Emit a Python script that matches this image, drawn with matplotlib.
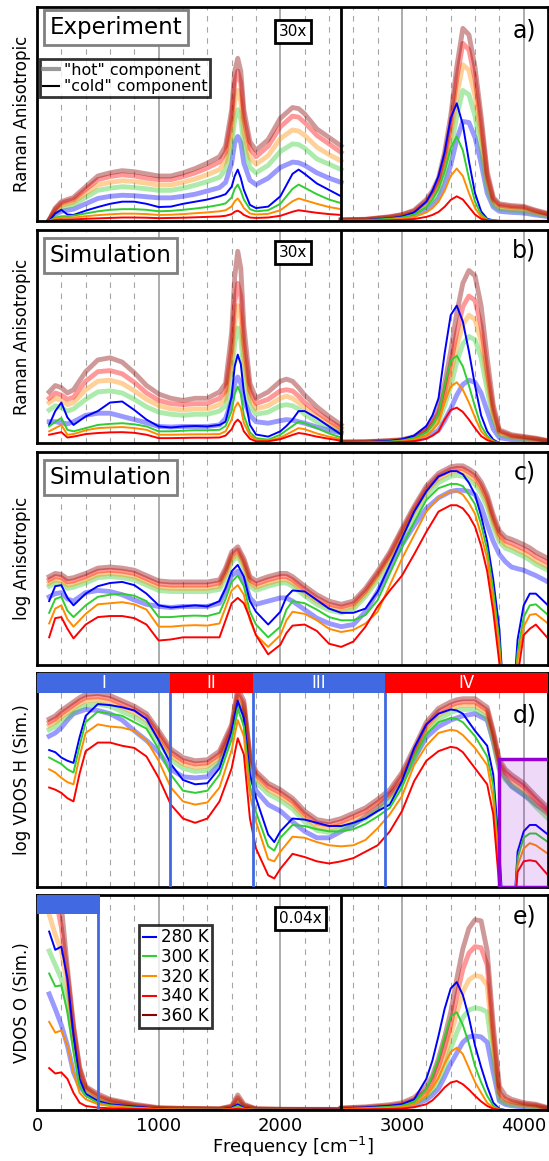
import numpy as np
import matplotlib.pyplot as plt
from matplotlib.patches import Rectangle
from matplotlib.lines import Line2D

# temperatures and colours (cold = thin line, hot = thick transparent line)
temps = ['280 K', '300 K', '320 K', '340 K', '360 K']
colors = ['blue', 'limegreen', 'darkorange', 'red', 'darkred']

# ---------------- panel a (experiment, left part 30x) ----------------
a_freq_l = [100, 150, 200, 250, 300, 400, 500, 600, 700, 800, 900, 1000, 1100, 1200, 1300, 1400, 1500,
            1550, 1600, 1625, 1650, 1675, 1700, 1750, 1800, 1900, 2000, 2100, 2150, 2200, 2300, 2400, 2500]
a_hot_l = [
    [0.003, 0.03, 0.045, 0.05, 0.055, 0.08, 0.105, 0.115, 0.12, 0.118, 0.113, 0.108, 0.108, 0.115, 0.125, 0.14, 0.156,
     0.18, 0.27, 0.365, 0.395, 0.365, 0.27, 0.19, 0.17, 0.2, 0.25, 0.275, 0.272, 0.26, 0.225, 0.2, 0.18],
    [0.003, 0.04, 0.06, 0.068, 0.075, 0.11, 0.143, 0.153, 0.16, 0.156, 0.15, 0.143, 0.143, 0.153, 0.167, 0.184, 0.204,
     0.24, 0.355, 0.475, 0.52, 0.475, 0.355, 0.25, 0.225, 0.26, 0.325, 0.36, 0.357, 0.34, 0.29, 0.265, 0.24],
    [0.004, 0.048, 0.072, 0.08, 0.088, 0.128, 0.168, 0.18, 0.188, 0.184, 0.176, 0.168, 0.168, 0.18, 0.196, 0.216, 0.24,
     0.28, 0.415, 0.56, 0.61, 0.56, 0.415, 0.295, 0.265, 0.305, 0.385, 0.425, 0.42, 0.40, 0.345, 0.31, 0.28],
    [0.005, 0.055, 0.083, 0.092, 0.10, 0.147, 0.193, 0.207, 0.216, 0.21, 0.20, 0.193, 0.193, 0.207, 0.225, 0.248, 0.276,
     0.32, 0.48, 0.645, 0.70, 0.645, 0.48, 0.34, 0.30, 0.35, 0.44, 0.49, 0.485, 0.46, 0.40, 0.36, 0.32],
    [0.005, 0.06, 0.09, 0.10, 0.11, 0.16, 0.21, 0.225, 0.235, 0.23, 0.22, 0.21, 0.21, 0.225, 0.245, 0.27, 0.30,
     0.35, 0.52, 0.70, 0.76, 0.70, 0.52, 0.37, 0.33, 0.38, 0.48, 0.53, 0.525, 0.50, 0.43, 0.39, 0.35],
]
a_cold_l = [
    [0, 0.035, 0.052, 0.03, 0.028, 0.048, 0.065, 0.08, 0.09, 0.09, 0.08, 0.065, 0.067, 0.08, 0.09, 0.10, 0.115,
     0.125, 0.16, 0.21, 0.24, 0.20, 0.145, 0.075, 0.06, 0.067, 0.115, 0.22, 0.24, 0.22, 0.175, 0.145, 0.115],
    [0, 0.015, 0.022, 0.022, 0.025, 0.035, 0.045, 0.052, 0.055, 0.055, 0.052, 0.045, 0.047, 0.052, 0.058, 0.065, 0.075,
     0.082, 0.11, 0.15, 0.17, 0.14, 0.1, 0.055, 0.045, 0.05, 0.08, 0.15, 0.17, 0.155, 0.125, 0.1, 0.083],
    [0, 0.01, 0.015, 0.015, 0.016, 0.022, 0.027, 0.031, 0.034, 0.034, 0.032, 0.028, 0.029, 0.032, 0.036, 0.04, 0.045,
     0.05, 0.068, 0.092, 0.105, 0.085, 0.06, 0.035, 0.03, 0.033, 0.05, 0.092, 0.105, 0.097, 0.08, 0.065, 0.055],
    [0, 0.004, 0.006, 0.006, 0.007, 0.01, 0.012, 0.014, 0.016, 0.016, 0.015, 0.013, 0.014, 0.015, 0.017, 0.019, 0.021,
     0.024, 0.032, 0.043, 0.048, 0.04, 0.028, 0.016, 0.014, 0.016, 0.024, 0.043, 0.05, 0.046, 0.038, 0.032, 0.028],
]
a_freq_r = [2500, 2700, 2900, 3000, 3100, 3200, 3250, 3300, 3350, 3400, 3450, 3500, 3550, 3600, 3650, 3700,
            3750, 3800, 3900, 4000, 4100, 4200]
a_hot_r = [
    [0.003, 0.004, 0.01, 0.016, 0.026, 0.052, 0.073, 0.105, 0.17, 0.26, 0.38, 0.465, 0.46, 0.39, 0.27, 0.13,
     0.065, 0.045, 0.04, 0.037, 0.028, 0.02],
    [0.003, 0.005, 0.014, 0.02, 0.034, 0.068, 0.095, 0.136, 0.218, 0.333, 0.49, 0.61, 0.59, 0.49, 0.333, 0.157,
     0.075, 0.055, 0.05, 0.046, 0.034, 0.024],
    [0.004, 0.006, 0.016, 0.024, 0.04, 0.081, 0.113, 0.162, 0.26, 0.40, 0.585, 0.73, 0.705, 0.585, 0.40, 0.19,
     0.09, 0.065, 0.058, 0.055, 0.04, 0.028],
    [0.005, 0.007, 0.018, 0.028, 0.046, 0.092, 0.13, 0.185, 0.295, 0.45, 0.665, 0.83, 0.80, 0.665, 0.45, 0.21,
     0.10, 0.074, 0.066, 0.063, 0.046, 0.032],
    [0.005, 0.008, 0.02, 0.03, 0.05, 0.10, 0.14, 0.20, 0.32, 0.49, 0.72, 0.90, 0.87, 0.72, 0.49, 0.23,
     0.11, 0.08, 0.072, 0.068, 0.05, 0.035],
]
a_cold_r = [
    [0.002, 0.004, 0.012, 0.02, 0.04, 0.09, 0.14, 0.21, 0.32, 0.48, 0.55, 0.45, 0.28, 0.13, 0.045, 0.01,
     0.003, 0, 0, 0, 0, 0],
    [0.002, 0.003, 0.01, 0.016, 0.03, 0.065, 0.1, 0.15, 0.23, 0.34, 0.395, 0.33, 0.2, 0.09, 0.03, 0.007,
     0.002, 0, 0, 0, 0, 0],
    [0.001, 0.002, 0.006, 0.01, 0.018, 0.04, 0.06, 0.09, 0.14, 0.21, 0.245, 0.21, 0.13, 0.06, 0.02, 0.005,
     0.001, 0, 0, 0, 0, 0],
    [0, 0.001, 0.003, 0.005, 0.009, 0.019, 0.028, 0.042, 0.066, 0.098, 0.115, 0.1, 0.065, 0.03, 0.01, 0.003,
     0, 0, 0, 0, 0, 0],
]

# ---------------- panel b (simulation, raman) ----------------
b_freq_l = [100, 150, 200, 250, 300, 400, 500, 600, 700, 800, 900, 1000, 1100, 1200, 1300, 1400, 1500, 1550,
            1600, 1625, 1650, 1675, 1700, 1750, 1800, 1900, 2000, 2050, 2100, 2150, 2200, 2300, 2400, 2500]
b_hot_l = [
    [0.10, 0.10, 0.095, 0.09, 0.10, 0.13, 0.14, 0.14, 0.125, 0.11, 0.095, 0.078, 0.075, 0.078, 0.078, 0.078, 0.085,
     0.115, 0.2, 0.28, 0.31, 0.28, 0.2, 0.13, 0.1, 0.093, 0.105, 0.11, 0.107, 0.1, 0.093, 0.075, 0.06, 0.047],
    [0.155, 0.175, 0.165, 0.15, 0.16, 0.205, 0.24, 0.245, 0.235, 0.205, 0.17, 0.145, 0.135, 0.13, 0.135, 0.135, 0.15,
     0.175, 0.32, 0.47, 0.54, 0.49, 0.335, 0.175, 0.135, 0.145, 0.175, 0.18, 0.175, 0.16, 0.135, 0.10, 0.075, 0.047],
    [0.19, 0.21, 0.20, 0.18, 0.19, 0.25, 0.29, 0.295, 0.28, 0.245, 0.205, 0.175, 0.16, 0.155, 0.16, 0.16, 0.18,
     0.21, 0.38, 0.565, 0.645, 0.59, 0.40, 0.21, 0.16, 0.175, 0.21, 0.22, 0.21, 0.19, 0.165, 0.125, 0.09, 0.06],
    [0.21, 0.235, 0.225, 0.205, 0.215, 0.29, 0.335, 0.34, 0.325, 0.285, 0.235, 0.20, 0.185, 0.18, 0.185, 0.185, 0.21,
     0.245, 0.45, 0.66, 0.75, 0.69, 0.47, 0.245, 0.185, 0.205, 0.245, 0.25, 0.245, 0.22, 0.19, 0.145, 0.105, 0.07],
    [0.24, 0.27, 0.26, 0.235, 0.25, 0.335, 0.39, 0.40, 0.38, 0.33, 0.27, 0.23, 0.21, 0.20, 0.21, 0.21, 0.24,
     0.28, 0.52, 0.78, 0.90, 0.82, 0.55, 0.28, 0.21, 0.24, 0.29, 0.30, 0.29, 0.26, 0.225, 0.17, 0.125, 0.085],
]
b_cold_l = [
    [0.085, 0.15, 0.19, 0.12, 0.085, 0.125, 0.15, 0.19, 0.195, 0.155, 0.11, 0.078, 0.073, 0.078, 0.08, 0.078, 0.085,
     0.10, 0.22, 0.36, 0.415, 0.37, 0.24, 0.085, 0.04, 0.03, 0.055, 0.08, 0.11, 0.15, 0.15, 0.117, 0.078, 0.04],
    [0.078, 0.1, 0.117, 0.062, 0.055, 0.07, 0.085, 0.09, 0.093, 0.088, 0.078, 0.055, 0.055, 0.058, 0.06, 0.06, 0.062,
     0.08, 0.15, 0.23, 0.265, 0.23, 0.13, 0.05, 0.023, 0.016, 0.039, 0.06, 0.08, 0.1, 0.093, 0.07, 0.045, 0.026],
    [0.055, 0.07, 0.085, 0.039, 0.042, 0.06, 0.07, 0.073, 0.075, 0.07, 0.062, 0.039, 0.039, 0.04, 0.041, 0.041, 0.042,
     0.055, 0.11, 0.165, 0.19, 0.165, 0.095, 0.035, 0.016, 0.011, 0.025, 0.04, 0.055, 0.07, 0.065, 0.045, 0.03, 0.019],
    [0.039, 0.045, 0.051, 0.026, 0.03, 0.042, 0.047, 0.05, 0.051, 0.048, 0.039, 0.023, 0.023, 0.024, 0.025, 0.025,
     0.026, 0.035, 0.065, 0.095, 0.11, 0.095, 0.055, 0.02, 0.008, 0.008, 0.018, 0.028, 0.038, 0.047, 0.043, 0.03,
     0.02, 0.011],
]
b_freq_r = a_freq_r
b_hot_r = [
    [0.002, 0.003, 0.005, 0.006, 0.012, 0.027, 0.042, 0.06, 0.105, 0.16, 0.225, 0.275, 0.295, 0.285, 0.235, 0.15,
     0.066, 0.025, 0.016, 0.013, 0.01, 0.005],
    [0.003, 0.004, 0.008, 0.01, 0.019, 0.044, 0.07, 0.1, 0.175, 0.265, 0.38, 0.465, 0.50, 0.485, 0.40, 0.25,
     0.11, 0.04, 0.025, 0.02, 0.015, 0.008],
    [0.004, 0.005, 0.009, 0.012, 0.023, 0.053, 0.083, 0.12, 0.21, 0.32, 0.455, 0.555, 0.60, 0.58, 0.48, 0.30,
     0.135, 0.048, 0.03, 0.024, 0.018, 0.009],
    [0.004, 0.005, 0.01, 0.014, 0.026, 0.06, 0.095, 0.14, 0.24, 0.37, 0.52, 0.64, 0.69, 0.67, 0.55, 0.34,
     0.155, 0.055, 0.034, 0.027, 0.02, 0.01],
    [0.005, 0.006, 0.012, 0.016, 0.03, 0.07, 0.11, 0.16, 0.28, 0.43, 0.61, 0.75, 0.81, 0.785, 0.645, 0.40,
     0.18, 0.062, 0.039, 0.031, 0.023, 0.011],
]
b_cold_r = [
    [0.002, 0.004, 0.01, 0.018, 0.035, 0.08, 0.13, 0.21, 0.42, 0.60, 0.645, 0.57, 0.43, 0.27, 0.13, 0.055,
     0.016, 0, 0, 0, 0, 0],
    [0.001, 0.003, 0.007, 0.012, 0.023, 0.05, 0.085, 0.135, 0.27, 0.385, 0.41, 0.36, 0.27, 0.17, 0.08, 0.034,
     0.01, 0, 0, 0, 0, 0],
    [0.001, 0.002, 0.005, 0.008, 0.016, 0.035, 0.06, 0.095, 0.19, 0.265, 0.285, 0.25, 0.19, 0.12, 0.056, 0.024,
     0.007, 0, 0, 0, 0, 0],
    [0, 0.001, 0.003, 0.005, 0.009, 0.02, 0.035, 0.055, 0.11, 0.155, 0.166, 0.146, 0.11, 0.07, 0.033, 0.014,
     0.004, 0, 0, 0, 0, 0],
]

# ---------------- panel c (log anisotropic) ----------------
c_freq = [100, 150, 200, 250, 300, 400, 500, 600, 700, 800, 900, 1000, 1100, 1200, 1300, 1400, 1500, 1550, 1600,
          1650, 1700, 1750, 1800, 1900, 2000, 2050, 2100, 2200, 2300, 2400, 2500, 2600, 2700, 2800, 2900, 3000,
          3100, 3200, 3300, 3400, 3450, 3500, 3550, 3600, 3650, 3700, 3750, 3800, 3850, 3900, 3950, 4000, 4050,
          4100, 4200]
c_hot = [
    [0.32, 0.335, 0.34, 0.31, 0.30, 0.34, 0.35, 0.345, 0.33, 0.305, 0.285, 0.275, 0.27, 0.275, 0.275, 0.275, 0.29,
     0.35, 0.42, 0.44, 0.40, 0.315, 0.285, 0.30, 0.315, 0.315, 0.30, 0.26, 0.22, 0.195, 0.18, 0.19, 0.25, 0.345,
     0.455, 0.565, 0.655, 0.735, 0.785, 0.815, 0.82, 0.82, 0.815, 0.80, 0.745, 0.66, 0.58, 0.52, 0.485, 0.46, 0.452,
     0.445, 0.432, 0.42, 0.39],
    [0.37, 0.385, 0.38, 0.36, 0.365, 0.385, 0.41, 0.415, 0.41, 0.40, 0.375, 0.35, 0.345, 0.345, 0.345, 0.345, 0.355,
     0.41, 0.485, 0.51, 0.455, 0.37, 0.35, 0.37, 0.385, 0.385, 0.37, 0.325, 0.285, 0.258, 0.245, 0.262, 0.322, 0.40,
     0.49, 0.598, 0.703, 0.797, 0.856, 0.886, 0.89, 0.887, 0.87, 0.848, 0.805, 0.745, 0.65, 0.578, 0.548, 0.538,
     0.523, 0.51, 0.493, 0.473, 0.445],
    [0.385, 0.40, 0.395, 0.375, 0.38, 0.40, 0.425, 0.43, 0.425, 0.415, 0.39, 0.365, 0.36, 0.36, 0.36, 0.36, 0.37,
     0.425, 0.50, 0.525, 0.47, 0.385, 0.365, 0.385, 0.40, 0.40, 0.385, 0.34, 0.30, 0.272, 0.26, 0.275, 0.335, 0.415,
     0.505, 0.615, 0.72, 0.815, 0.875, 0.905, 0.91, 0.908, 0.89, 0.868, 0.825, 0.765, 0.67, 0.595, 0.565, 0.555,
     0.54, 0.527, 0.51, 0.49, 0.46],
    [0.40, 0.415, 0.41, 0.39, 0.395, 0.415, 0.44, 0.445, 0.44, 0.43, 0.405, 0.38, 0.375, 0.375, 0.375, 0.375, 0.385,
     0.44, 0.515, 0.54, 0.485, 0.40, 0.38, 0.40, 0.415, 0.415, 0.40, 0.355, 0.315, 0.285, 0.272, 0.288, 0.348, 0.428,
     0.518, 0.628, 0.733, 0.828, 0.888, 0.918, 0.923, 0.922, 0.905, 0.885, 0.843, 0.782, 0.687, 0.612, 0.582, 0.572,
     0.558, 0.545, 0.53, 0.51, 0.48],
    [0.415, 0.43, 0.425, 0.405, 0.41, 0.43, 0.455, 0.46, 0.455, 0.445, 0.42, 0.395, 0.39, 0.39, 0.39, 0.39, 0.40,
     0.455, 0.53, 0.555, 0.50, 0.415, 0.395, 0.415, 0.43, 0.43, 0.415, 0.37, 0.33, 0.30, 0.285, 0.30, 0.36, 0.44,
     0.53, 0.64, 0.745, 0.84, 0.90, 0.93, 0.935, 0.935, 0.92, 0.90, 0.86, 0.80, 0.705, 0.63, 0.60, 0.59, 0.578,
     0.565, 0.55, 0.53, 0.50],
]
c_cold = [
    [0.30, 0.37, 0.375, 0.315, 0.28, 0.335, 0.37, 0.385, 0.39, 0.375, 0.335, 0.28, 0.27, 0.275, 0.28, 0.275, 0.30,
     0.36, 0.44, 0.47, 0.415, 0.30, 0.25, 0.19, 0.25, 0.32, 0.35, 0.345, 0.305, 0.265, 0.245, 0.245, 0.265, 0.345,
     0.47, 0.595, 0.72, 0.815, 0.885, 0.91, 0.91, 0.895, 0.855, 0.80, 0.70, 0.58, 0.40, 0.17, -0.3, -0.3, 0.12,
     0.28, 0.335, 0.335, 0.28],
    [0.245, 0.31, 0.32, 0.255, 0.225, 0.28, 0.32, 0.33, 0.335, 0.325, 0.30, 0.225, 0.225, 0.23, 0.232, 0.23, 0.245,
     0.31, 0.39, 0.42, 0.37, 0.25, 0.19, 0.13, 0.18, 0.26, 0.30, 0.29, 0.26, 0.225, 0.21, 0.21, 0.235, 0.305,
     0.43, 0.555, 0.67, 0.775, 0.83, 0.85, 0.85, 0.84, 0.80, 0.755, 0.66, 0.54, 0.35, 0.11, -0.3, -0.3, 0.06,
     0.225, 0.28, 0.285, 0.235],
    [0.195, 0.265, 0.28, 0.215, 0.18, 0.24, 0.285, 0.29, 0.295, 0.285, 0.26, 0.18, 0.18, 0.185, 0.187, 0.185, 0.195,
     0.27, 0.35, 0.375, 0.33, 0.21, 0.14, 0.085, 0.14, 0.21, 0.25, 0.24, 0.21, 0.17, 0.155, 0.165, 0.195, 0.25,
     0.375, 0.50, 0.61, 0.72, 0.785, 0.815, 0.815, 0.80, 0.76, 0.71, 0.61, 0.50, 0.30, 0.07, -0.3, -0.3, 0.02,
     0.18, 0.235, 0.24, 0.195],
    [0.13, 0.22, 0.225, 0.17, 0.125, 0.19, 0.225, 0.23, 0.23, 0.22, 0.19, 0.115, 0.12, 0.13, 0.13, 0.13, 0.13,
     0.21, 0.29, 0.315, 0.29, 0.22, 0.14, 0.05, 0.095, 0.15, 0.185, 0.19, 0.16, 0.10, 0.085, 0.11, 0.18, 0.275,
     0.35, 0.42, 0.52, 0.625, 0.72, 0.75, 0.75, 0.735, 0.70, 0.65, 0.56, 0.44, 0.25, 0.01, -0.3, -0.3, -0.05,
     0.14, 0.17, 0.19, 0.125],
]

# ---------------- panel d (log VDOS H) ----------------
d_freq = [100, 150, 200, 250, 300, 350, 400, 500, 600, 700, 800, 900, 1000, 1100, 1200, 1300, 1400, 1500, 1600,
          1650, 1700, 1750, 1800, 1900, 1950, 2000, 2100, 2200, 2300, 2400, 2500, 2600, 2700, 2800, 2900, 3000,
          3100, 3200, 3300, 3400, 3450, 3500, 3600, 3700, 3750, 3800, 3850, 3900, 3950, 4000, 4050, 4100, 4200]
d_hot = [
    [0.705, 0.72, 0.745, 0.78, 0.81, 0.82, 0.83, 0.825, 0.81, 0.78, 0.73, 0.685, 0.63, 0.55, 0.515, 0.51, 0.515,
     0.575, 0.73, 0.855, 0.81, 0.54, 0.45, 0.385, 0.37, 0.355, 0.305, 0.26, 0.23, 0.23, 0.26, 0.29, 0.33, 0.37,
     0.43, 0.49, 0.60, 0.70, 0.75, 0.78, 0.79, 0.80, 0.81, 0.78, 0.68, 0.555, 0.51, 0.47, 0.45, 0.43, 0.41, 0.385,
     0.345],
    [0.735, 0.75, 0.775, 0.795, 0.815, 0.835, 0.85, 0.855, 0.845, 0.82, 0.795, 0.76, 0.68, 0.595, 0.555, 0.54,
     0.545, 0.585, 0.71, 0.87, 0.82, 0.57, 0.49, 0.435, 0.42, 0.405, 0.365, 0.305, 0.265, 0.255, 0.27, 0.295, 0.32,
     0.36, 0.405, 0.485, 0.60, 0.72, 0.785, 0.815, 0.825, 0.83, 0.83, 0.79, 0.68, 0.545, 0.50, 0.475, 0.455, 0.435,
     0.405, 0.375, 0.32],
    [0.755, 0.77, 0.795, 0.815, 0.835, 0.855, 0.87, 0.875, 0.865, 0.84, 0.815, 0.78, 0.70, 0.615, 0.575, 0.56,
     0.565, 0.605, 0.73, 0.89, 0.84, 0.59, 0.51, 0.455, 0.44, 0.425, 0.385, 0.325, 0.285, 0.275, 0.29, 0.315, 0.34,
     0.38, 0.425, 0.505, 0.62, 0.74, 0.805, 0.835, 0.845, 0.85, 0.85, 0.81, 0.70, 0.565, 0.52, 0.495, 0.475, 0.455,
     0.425, 0.395, 0.34],
    [0.77, 0.785, 0.81, 0.83, 0.85, 0.87, 0.885, 0.89, 0.88, 0.855, 0.83, 0.795, 0.715, 0.63, 0.59, 0.575, 0.58,
     0.62, 0.745, 0.905, 0.855, 0.605, 0.525, 0.47, 0.455, 0.44, 0.40, 0.34, 0.30, 0.29, 0.305, 0.33, 0.355, 0.395,
     0.44, 0.52, 0.635, 0.755, 0.82, 0.85, 0.86, 0.865, 0.865, 0.825, 0.715, 0.58, 0.535, 0.51, 0.49, 0.47, 0.44,
     0.41, 0.355],
    [0.785, 0.80, 0.825, 0.845, 0.865, 0.885, 0.90, 0.905, 0.895, 0.87, 0.845, 0.81, 0.73, 0.645, 0.605, 0.59,
     0.595, 0.635, 0.76, 0.93, 0.87, 0.62, 0.54, 0.485, 0.47, 0.455, 0.415, 0.355, 0.315, 0.305, 0.32, 0.345, 0.37,
     0.41, 0.455, 0.535, 0.65, 0.77, 0.835, 0.865, 0.875, 0.88, 0.88, 0.84, 0.73, 0.595, 0.55, 0.525, 0.505, 0.485,
     0.455, 0.425, 0.37],
]
d_cold = [
    [0.64, 0.63, 0.605, 0.59, 0.58, 0.70, 0.80, 0.855, 0.85, 0.84, 0.825, 0.785, 0.685, 0.575, 0.50, 0.48, 0.485,
     0.555, 0.73, 0.87, 0.79, 0.525, 0.415, 0.245, 0.21, 0.26, 0.32, 0.315, 0.30, 0.285, 0.285, 0.30, 0.32, 0.355,
     0.385, 0.495, 0.65, 0.76, 0.81, 0.83, 0.825, 0.81, 0.73, 0.66, 0.525, 0.165, -0.3, -0.3, 0.165, 0.26, 0.29,
     0.29, 0.245],
    [0.605, 0.59, 0.575, 0.55, 0.535, 0.66, 0.77, 0.82, 0.81, 0.80, 0.77, 0.74, 0.645, 0.525, 0.45, 0.44, 0.45,
     0.525, 0.69, 0.835, 0.75, 0.475, 0.35, 0.19, 0.17, 0.23, 0.29, 0.285, 0.27, 0.26, 0.26, 0.27, 0.295, 0.33,
     0.37, 0.465, 0.61, 0.715, 0.77, 0.79, 0.785, 0.77, 0.705, 0.61, 0.475, 0.10, -0.3, -0.3, 0.135, 0.23, 0.25,
     0.25, 0.21],
    [0.55, 0.535, 0.51, 0.49, 0.48, 0.61, 0.72, 0.76, 0.75, 0.745, 0.73, 0.685, 0.59, 0.465, 0.40, 0.385, 0.395,
     0.465, 0.64, 0.78, 0.705, 0.43, 0.305, 0.13, 0.12, 0.165, 0.235, 0.23, 0.21, 0.195, 0.19, 0.195, 0.22, 0.275,
     0.34, 0.425, 0.57, 0.66, 0.72, 0.735, 0.73, 0.71, 0.65, 0.57, 0.41, 0.07, -0.3, -0.3, 0.10, 0.18, 0.205,
     0.195, 0.155],
    [0.465, 0.455, 0.44, 0.415, 0.40, 0.53, 0.635, 0.675, 0.675, 0.66, 0.65, 0.61, 0.51, 0.385, 0.32, 0.30, 0.32,
     0.40, 0.555, 0.695, 0.62, 0.32, 0.18, 0.055, 0.04, 0.085, 0.155, 0.14, 0.12, 0.11, 0.12, 0.135, 0.165, 0.195,
     0.26, 0.355, 0.495, 0.59, 0.635, 0.655, 0.65, 0.63, 0.555, 0.48, 0.34, 0.0, -0.3, -0.3, 0.07, 0.12, 0.125,
     0.12, 0.055],
]
d_band_edges = [0, 1095, 1775, 2860, 4200]
d_band_labels = ['I', 'II', 'III', 'IV']
d_band_colors = ['royalblue', 'red', 'royalblue', 'red']

# ---------------- panel e (VDOS O, left part 0.04x) ----------------
e_freq_l = [100, 150, 200, 250, 300, 350, 400, 500, 600, 800, 1000, 1200, 1500, 1600, 1650, 1700, 1800, 2000, 2500]
e_hot_l = [
    [0.54, 0.47, 0.395, 0.30, 0.175, 0.11, 0.075, 0.042, 0.028, 0.013, 0.006, 0.004, 0.003, 0.009, 0.03, 0.012,
     0.003, 0.002, 0.001],
    [0.74, 0.675, 0.61, 0.49, 0.315, 0.145, 0.09, 0.05, 0.034, 0.016, 0.007, 0.005, 0.004, 0.011, 0.04, 0.015,
     0.003, 0.002, 0.001],
    [0.91, 0.815, 0.74, 0.58, 0.35, 0.17, 0.10, 0.058, 0.04, 0.019, 0.008, 0.006, 0.004, 0.013, 0.048, 0.018,
     0.004, 0.003, 0.002],
    [1.1, 1.0, 0.85, 0.63, 0.38, 0.19, 0.105, 0.065, 0.045, 0.022, 0.009, 0.007, 0.005, 0.016, 0.058, 0.022,
     0.005, 0.003, 0.002],
    [1.15, 1.1, 0.95, 0.66, 0.395, 0.2, 0.11, 0.075, 0.05, 0.027, 0.011, 0.008, 0.006, 0.019, 0.07, 0.027,
     0.006, 0.004, 0.003],
]
e_cold_l = [
    [0.83, 0.745, 0.76, 0.61, 0.35, 0.145, 0.075, 0.042, 0.027, 0.016, 0.006, 0.004, 0.003, 0.01, 0.027, 0.01,
     0.002, 0.001, 0.001],
    [0.635, 0.575, 0.58, 0.455, 0.27, 0.11, 0.066, 0.034, 0.022, 0.012, 0.005, 0.003, 0.002, 0.007, 0.019, 0.007,
     0.002, 0.001, 0],
    [0.41, 0.36, 0.37, 0.30, 0.175, 0.08, 0.05, 0.027, 0.018, 0.009, 0.004, 0.003, 0.002, 0.005, 0.012, 0.005,
     0.001, 0.001, 0],
    [0.195, 0.17, 0.175, 0.145, 0.08, 0.034, 0.019, 0.011, 0.008, 0.005, 0.002, 0.001, 0.001, 0.003, 0.006, 0.003,
     0.001, 0, 0],
]
e_freq_r = [2500, 2700, 2900, 3000, 3100, 3200, 3250, 3300, 3350, 3400, 3450, 3500, 3550, 3600, 3650, 3700,
            3750, 3800, 3850, 3900, 4000, 4100, 4200]
e_hot_r = [
    [0.004, 0.006, 0.01, 0.014, 0.025, 0.047, 0.07, 0.10, 0.155, 0.215, 0.265, 0.315, 0.34, 0.345, 0.34, 0.315,
     0.175, 0.042, 0.026, 0.02, 0.014, 0.011, 0.005],
    [0.005, 0.008, 0.013, 0.018, 0.032, 0.06, 0.09, 0.13, 0.20, 0.285, 0.36, 0.43, 0.465, 0.475, 0.47, 0.455,
     0.24, 0.05, 0.032, 0.026, 0.018, 0.014, 0.006],
    [0.006, 0.01, 0.016, 0.022, 0.04, 0.075, 0.11, 0.165, 0.245, 0.35, 0.45, 0.55, 0.605, 0.625, 0.62, 0.58,
     0.30, 0.066, 0.04, 0.032, 0.022, 0.018, 0.007],
    [0.008, 0.012, 0.02, 0.028, 0.048, 0.09, 0.135, 0.20, 0.29, 0.395, 0.53, 0.655, 0.73, 0.76, 0.755, 0.675,
     0.345, 0.08, 0.05, 0.04, 0.028, 0.022, 0.009],
    [0.01, 0.015, 0.025, 0.034, 0.058, 0.11, 0.16, 0.24, 0.34, 0.455, 0.61, 0.75, 0.845, 0.885, 0.88, 0.74,
     0.395, 0.11, 0.066, 0.05, 0.034, 0.027, 0.011],
]
e_cold_r = [
    [0.008, 0.012, 0.02, 0.027, 0.05, 0.145, 0.23, 0.345, 0.47, 0.565, 0.595, 0.535, 0.43, 0.30, 0.20, 0.11,
     0.034, 0.006, 0, 0, 0, 0, 0],
    [0.006, 0.009, 0.015, 0.02, 0.038, 0.097, 0.16, 0.24, 0.34, 0.435, 0.455, 0.395, 0.31, 0.205, 0.13, 0.066,
     0.02, 0.003, 0, 0, 0, 0, 0],
    [0.004, 0.006, 0.01, 0.013, 0.025, 0.066, 0.105, 0.15, 0.215, 0.27, 0.29, 0.26, 0.195, 0.13, 0.08, 0.034,
     0.01, 0.002, 0, 0, 0, 0, 0],
    [0.002, 0.003, 0.005, 0.007, 0.013, 0.027, 0.045, 0.073, 0.105, 0.128, 0.135, 0.12, 0.095, 0.066, 0.04, 0.019,
     0.006, 0.001, 0, 0, 0, 0, 0],
]


def grid(ax):
    for x in range(200, 4200, 200):
        if x % 1000 == 0:
            ax.axvline(x, color='gray', lw=1.3, alpha=0.7, zorder=0)
        else:
            ax.axvline(x, color='gray', lw=0.8, ls=(0, (5, 5)), alpha=0.7, zorder=0)


def draw(ax, f, hot, cold):
    for c, y in zip(colors, hot):
        ax.plot(f, y, color=c, lw=3.5, alpha=0.4, solid_joinstyle='round')
    for c, y in zip(colors, cold):
        ax.plot(f, y, color=c, lw=1.4)


def label(ax, txt, y):
    ax.text(0.977, y, txt, transform=ax.transAxes, fontsize=17, ha='right', va='center')


def boxtxt(ax, txt, x, y, ec='black', fs=11, ha='center'):
    ax.text(x, y, txt, transform=ax.transAxes, fontsize=fs, ha=ha, va='center', zorder=10,
            bbox=dict(boxstyle='square,pad=0.25', fc='white', ec=ec, lw=2))


fig = plt.figure(figsize=(5.49, 11.61), dpi=100)
L, W = 0.0674, 0.9308
bottoms = [0.8097, 0.6184, 0.4272, 0.2360, 0.0439]
heights = [0.1843, 0.1835, 0.1835, 0.1843, 0.1852]
axes = [fig.add_axes([L, b, W, h]) for b, h in zip(bottoms, heights)]

for ax in axes:
    grid(ax)
    ax.set_xlim(0, 4200)
    ax.set_ylim(0, 1)
    ax.set_yticks([])
    for s in ax.spines.values():
        s.set_linewidth(2)
    ax.tick_params(axis='x', length=0, labelsize=13, pad=5)
for ax in axes[:4]:
    ax.set_xticklabels([])

ax = axes[0]
draw(ax, a_freq_l, a_hot_l, a_cold_l)
draw(ax, a_freq_r, a_hot_r, a_cold_r)
ax.axvline(2500, color='black', lw=2)
ax.set_ylabel('Raman Anisotropic', fontsize=12)
boxtxt(ax, 'Experiment', 0.025, 0.905, ec='gray', fs=16.5, ha='left')
boxtxt(ax, '30x', 0.50, 0.885)
label(ax, 'a)', 0.89)
handles = [Line2D([], [], color='gray', lw=3, alpha=0.8), Line2D([], [], color='black', lw=1.5)]
leg = ax.legend(handles, ['"hot" component', '"cold" component'], loc='upper left',
                bbox_to_anchor=(0.005, 0.755), fontsize=11.5, frameon=True, fancybox=False,
                handlelength=1.0, handletextpad=0.3, borderpad=0.2, labelspacing=0.1, borderaxespad=0)
leg.get_frame().set_edgecolor('black')
leg.get_frame().set_linewidth(2)

ax = axes[1]
draw(ax, b_freq_l, b_hot_l, b_cold_l)
draw(ax, b_freq_r, b_hot_r, b_cold_r)
ax.axvline(2500, color='black', lw=2)
ax.set_ylabel('Raman Anisotropic', fontsize=12)
boxtxt(ax, 'Simulation', 0.025, 0.88, ec='gray', fs=16.5, ha='left')
boxtxt(ax, '30x', 0.50, 0.895)
label(ax, 'b)', 0.905)

ax = axes[2]
draw(ax, c_freq, c_hot, c_cold)
ax.set_ylabel('log Anisotropic', fontsize=12)
boxtxt(ax, 'Simulation', 0.025, 0.88, ec='gray', fs=16.5, ha='left')
label(ax, 'c)', 0.905)

ax = axes[3]
draw(ax, d_freq, d_hot, d_cold)
ax.set_ylabel('log VDOS H (Sim.)', fontsize=12)
for i in range(4):
    x0, x1 = d_band_edges[i], d_band_edges[i + 1]
    ax.axvspan(x0, x1, ymin=0.905, ymax=1, color=d_band_colors[i], zorder=5, lw=0)
    ax.text((x0 + x1) / 2, 0.952, d_band_labels[i], color='white', fontsize=12, ha='center', va='center', zorder=6)
for x in d_band_edges[1:4]:
    ax.axvline(x, ymax=0.905, color='royalblue', lw=2, zorder=4)
ax.add_patch(Rectangle((3795, 0), 500, 0.60, facecolor=(0.58, 0.0, 0.83, 0.15), edgecolor='darkviolet',
                       lw=2.5, zorder=4))
label(ax, 'd)', 0.80)

ax = axes[4]
draw(ax, e_freq_l, e_hot_l, e_cold_l)
draw(ax, e_freq_r, e_hot_r, e_cold_r)
ax.axvline(2500, color='black', lw=2)
ax.axvspan(0, 515, ymin=0.91, ymax=1, color='royalblue', zorder=5, lw=0)
ax.axvline(505, ymax=0.91, color='royalblue', lw=2, zorder=4)
ax.set_ylabel('VDOS O (Sim.)', fontsize=12)
boxtxt(ax, '0.04x', 0.516, 0.89)
label(ax, 'e)', 0.90)
handles = [Line2D([], [], color=c, lw=1.5) for c in colors]
leg = ax.legend(handles, temps, loc='upper left', bbox_to_anchor=(0.2, 0.86), fontsize=12,
                frameon=True, fancybox=False, handlelength=0.8, handletextpad=0.3, borderpad=0.2,
                labelspacing=0.1, borderaxespad=0)
leg.get_frame().set_edgecolor('black')
leg.get_frame().set_linewidth(2)
leg.set_zorder(10)
ax.set_xticks([0, 1000, 2000, 3000, 4000])
ax.set_xlabel('Frequency [cm$^{-1}$]', fontsize=13, labelpad=0)

fig.savefig('out.png', dpi=100)
